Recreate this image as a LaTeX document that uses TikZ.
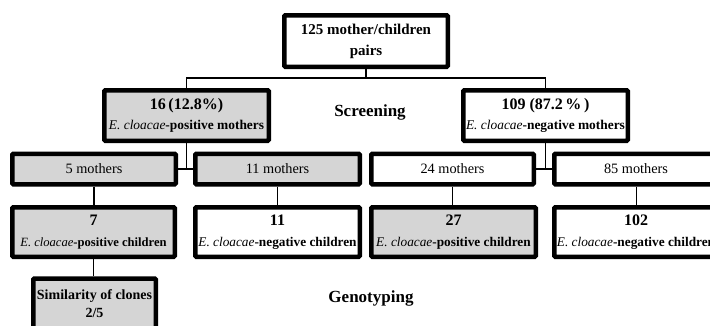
\documentclass[tikz,border=0pt]{standalone}
\usepackage{fontspec}
\setmainfont{Liberation Serif}
\definecolor{boxgray}{RGB}{213,213,213}
\newcommand{\numline}[1]{{\fontsize{16}{16}\selectfont\bfseries #1}}
\newcommand{\ecl}{\textit{E. cloacae}}
\begin{document}
\begin{tikzpicture}[x=1pt,y=-1pt]
\tikzset{
  box/.style={draw=black, line width=4.5pt, rounded corners=1pt, align=center, inner sep=0pt,
    font=\fontsize{13.4}{20}\selectfont},
  gbox/.style={box, fill=boxgray},
  wbox/.style={box, fill=white},
  momtxt/.style={font=\fontsize{14.3}{18}\selectfont},
  childtxt/.style={font=\fontsize{13.3}{21}\selectfont},
  conn/.style={draw=black, line width=1.3pt},
  lab/.style={font=\fontsize{17}{20}\selectfont\bfseries}
}
\clip (0,0) rectangle (710,325);
\fill[white] (0,0) rectangle (710,325);
% level 0
\node[wbox, minimum width=163.5pt, minimum height=51.5pt, font=\fontsize{15}{21}\selectfont\bfseries] (top) at (366,41) {125 mother/children\\pairs};
% level 1
\node[gbox, minimum width=164.5pt, minimum height=50.5pt] (pm) at (186.5,115.5) {\numline{16\,(12.8\%)}\\\ecl\textbf{-positive mothers}};
\node[wbox, minimum width=164.5pt, minimum height=50.5pt] (nm) at (545.5,115.5) {\numline{109 (87.2\,\%\,)}\\\ecl\textbf{-negative mothers}};
% level 2
\node[gbox, momtxt, minimum width=163.5pt, minimum height=30.5pt] (m5) at (94,169) {5 mothers};
\node[gbox, momtxt, minimum width=164.5pt, minimum height=30.5pt] (m11) at (277.5,169) {11 mothers};
\node[wbox, momtxt, minimum width=162.5pt, minimum height=30.5pt] (m24) at (452.5,169) {24 mothers};
\node[wbox, momtxt, minimum width=163.5pt, minimum height=30.5pt] (m85) at (636,169) {85 mothers};
% level 3
\node[gbox, childtxt, font=\fontsize{12.6}{21}\selectfont, minimum width=162.5pt, minimum height=49.5pt] (c7) at (93.5,232) {\numline{7}\\\ecl\textbf{-positive children}};
\node[wbox, childtxt, minimum width=164.5pt, minimum height=49.5pt] (c11) at (277.5,232) {\numline{11}\\\ecl\textbf{-negative children}};
\node[gbox, childtxt, minimum width=164.5pt, minimum height=49.5pt] (c27) at (453.5,232) {\numline{27}\\\ecl\textbf{-positive children}};
\node[wbox, childtxt, minimum width=163.5pt, minimum height=49.5pt] (c102) at (636,232) {\numline{102}\\\ecl\textbf{-negative children}};
% level 4
\node[gbox, minimum width=122.5pt, minimum height=50pt, font=\fontsize{14}{18}\selectfont\bfseries] (sim) at (94.5,303.5) {Similarity of clones\\2/5};
% labels
\node[lab] (scr) at (370,112) {Screening};
\node[lab] (gen) at (371,298) {Genotyping};
% connectors
\draw[conn] (top.south) -- ++(0,9) coordinate (j);
\draw[conn] (pm.north) |- (j) -| (nm.north);
\draw[conn] (pm.south) -- (pm.south |- m5.east);
\draw[conn] (m5.east) -- (m11.west);
\draw[conn] (nm.south) -- (nm.south |- m24.east);
\draw[conn] (m24.east) -- (m85.west);
\draw[conn] (m5.south) -- (m5.south |- c7.north);
\draw[conn, line width=1pt] (m11.south) -- (m11.south |- c11.north);
\draw[conn, line width=1pt] (m24.south) -- (m24.south |- c27.north);
\draw[conn, line width=1pt] (m85.south) -- (m85.south |- c102.north);
\draw[conn] (c7.south) -- (c7.south |- sim.north);
\end{tikzpicture}
\end{document}
